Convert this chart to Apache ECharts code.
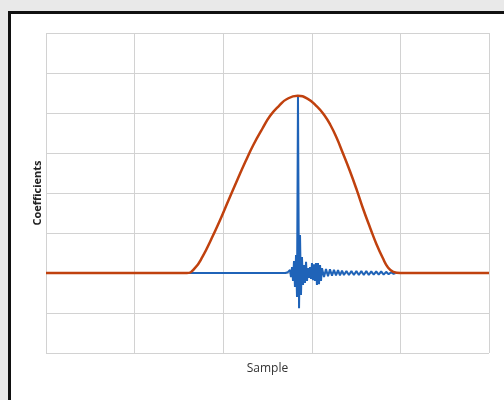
<!DOCTYPE html>
<html>
<head>
<meta charset="utf-8">
<script src="https://cdn.jsdelivr.net/npm/echarts@6/dist/echarts.min.js"></script>
<style>
  html, body { margin: 0; padding: 0; background: #e9e9e9; }
  .frame {
    position: absolute; left: 8px; top: 11px;
    width: 520px; height: 400px;
    background: #fff;
    border-left: 3px solid #111;
    border-top: 3px solid #111;
  }
  #chart { position: absolute; left: 0; top: 0; width: 504px; height: 400px; }
</style>
</head>
<body>
<div class="frame"></div>
<div id="chart"></div>
<script>
// window shape (orange), sample -> coefficient
var windowPts = [
  [0, 0], [159, 0], [168, 0.12], [177, 0.42], [186, 0.82], [196, 1.3], [206, 1.82],
  [216, 2.33], [225, 2.78], [234, 3.2], [244, 3.6], [253, 3.93], [263, 4.18],
  [272, 4.35], [284, 4.43], [295, 4.36], [306, 4.16], [314, 3.95], [321, 3.7],
  [328, 3.38], [335, 3.0], [343, 2.55], [351, 2.06], [358, 1.6], [366, 1.12],
  [373, 0.72], [380, 0.38], [386, 0.14], [392, 0.03], [400, 0], [500, 0]
];

// windowed impulse response (blue)
var responsePts = [
  [154.6, 0], [270, 0], [273, 0.02], [275.4, 0.08], [276.5, -0.1], [277.7, 0.15],
  [278.8, -0.2], [279.9, 0.3], [281.0, -0.35], [282.2, 0.45], [283.3, -0.6],
  [284.4, 4.43], [285.6, -0.88], [286.7, 0.95], [287.8, -0.55], [288.9, 0.4],
  [290.1, -0.3], [291.2, 0.2], [292.3, -0.25], [293.5, 0.28], [294.6, -0.2],
  [295.7, 0.12], [296.8, -0.12], [298.0, 0.15], [299.1, -0.15], [300.2, 0.25],
  [301.3, -0.18], [302.5, 0.22], [303.6, -0.2], [304.7, 0.25], [305.8, -0.3],
  [307.0, 0.25], [308.1, -0.28], [309.3, 0.2], [310.4, -0.2], [311.5, 0.12],
  [313.8, -0.1], [316.0, 0.1], [318.3, -0.08], [320.5, 0.09], [322.8, -0.07],
  [325.0, 0.08], [327.3, -0.06], [329.6, 0.07], [331.8, -0.06], [334.1, 0.06],
  [336.3, -0.05], [339.1, 0.05], [341.9, -0.05], [344.7, 0.05], [347.5, -0.05],
  [350.3, 0.05], [353.1, -0.05], [355.9, 0.05], [358.7, -0.05], [361.5, 0.05],
  [364.3, -0.05], [367.1, 0.04], [369.9, -0.04], [372.7, 0.04], [375.5, -0.04],
  [378.3, 0.04], [381.1, -0.04], [383.9, 0.03], [386.7, -0.03], [389.5, 0.02],
  [392.3, -0.02], [394.5, 0]
];

var chart = echarts.init(document.getElementById('chart'));

var option = {
  backgroundColor: 'transparent',
  animation: false,
  grid: { left: 46, right: 15, top: 33, bottom: 47 },
  xAxis: {
    type: 'value',
    min: 0, max: 500, interval: 100,
    name: 'Sample',
    nameLocation: 'middle',
    nameGap: 10,
    nameTextStyle: { color: '#333', fontSize: 12, fontFamily: 'Open Sans', verticalAlign: 'top' },
    axisLine: { show: false },
    axisTick: { show: false },
    axisLabel: { show: false },
    splitLine: { show: true, lineStyle: { color: '#d2d2d2', width: 1 } }
  },
  yAxis: {
    type: 'value',
    min: -2, max: 6, interval: 1,
    name: 'Coefficients',
    nameLocation: 'middle',
    nameGap: 3,
    nameTextStyle: { color: '#222', fontSize: 11, fontWeight: 'bold', fontFamily: 'Open Sans' },
    axisLine: { show: false },
    axisTick: { show: false },
    axisLabel: { show: false },
    splitLine: { show: true, lineStyle: { color: '#d2d2d2', width: 1 } }
  },
  series: [
    {
      type: 'line',
      data: responsePts,
      showSymbol: false,
      lineStyle: { color: '#1f63b8', width: 2 },
      z: 2
    },
    {
      type: 'line',
      data: windowPts,
      smooth: 0.5,
      showSymbol: false,
      lineStyle: { color: '#c0410e', width: 2.5 },
      z: 3
    }
  ]
};

chart.setOption(option);
</script>
</body>
</html>
